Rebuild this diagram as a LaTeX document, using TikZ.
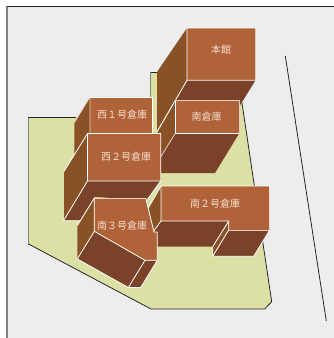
\documentclass[tikz,border=0pt]{standalone}
\usepackage{fontspec}
\setmainfont{Noto Sans CJK JP}
\definecolor{groundgray}{HTML}{EDEDED}
\definecolor{landgreen}{HTML}{DCE0A5}
\definecolor{roofbrown}{HTML}{B06238}
\definecolor{sidebrown}{HTML}{885226}
\definecolor{frontbrown}{HTML}{7A4228}
\definecolor{labeltint}{HTML}{F4DFD0}
\newcommand{\blocklabels}{221/50/ridgehall/本館,122/115/westone/西１号倉庫,126/157/westtwo/西２号倉庫,206.5/116.5/south/南倉庫,215/203.5/southtwo/南２号倉庫,122/226/souththree/南３号倉庫}

\begin{document}
\begin{tikzpicture}[x=1pt,y=-1pt,
    roof/.style={fill=roofbrown},
    side/.style={fill=sidebrown},
    front/.style={fill=frontbrown},
    edge/.style={draw=white,line width=.8pt},
    softedge/.style={draw=white!70!roofbrown,line width=.8pt},
    border/.style={draw=black!85,line width=.8pt},
    grayborder/.style={draw=black!50,line width=.8pt},
    blocklabel/.style={text=labeltint,font=\fontsize{10}{11}\selectfont,inner sep=0pt}]
    \useasboundingbox (0,0) rectangle (334,338);
    % ground
    \fill[white] (0,0) rectangle (334,338);
    \fill[groundgray] (7,6) rectangle (334,338);
    \draw[draw=black!50,line width=1.4pt] (7,6) -- (7,338);
    \draw[border] (7,6) -- (334,6);
    \draw[border] (285.3,56) -- (326.3,321);
    % land
    \fill[landgreen] (28,117.5) -- (100,117.5) -- (100,100) -- (150.5,100) -- (150.5,72) -- (190,72) -- (242,103) -- (271.7,301.7) -- (264.7,309) -- (151,309) -- (28,243.7) -- cycle;
    \draw[border] (28,117.5) -- (76,117.5);
    \draw[grayborder] (150.5,100) -- (150.5,72);
    \draw[border] (150.5,72) -- (160,72);
    \draw[border] (242,103) -- (271.7,301.7) -- (264.7,309) -- (151,309) -- (28,243.7);
    \draw[grayborder] (28,243.7) -- (28,117.5);
    % main hall
    \fill[side] (187,28) -- (157,72) -- (157,132) -- (187,80) -- cycle;
    \fill[front] (187,80) -- (255.7,80) -- (239,107) -- (175,140) -- (157,132) -- cycle;
    \fill[roof] (187,28) rectangle (255.7,80.3);
    \draw[edge] (157,132) -- (187,80.3) -- (255.7,80.3) -- (255.7,28) -- (187,28) -- (187,80.3);
    % south warehouse
    \fill[side] (175,101) -- (157,132) -- (157,160) -- (175,134) -- cycle;
    \fill[front] (175,133.7) -- (239,133.7) -- (215,173) -- (157,173) -- (157,160) -- cycle;
    \draw[edge] (157,132) -- (175,101);
    \draw[softedge] (175,133.7) -- (160,158);
    \fill[roof] (175,100.7) rectangle (239,133.7);
    \draw[edge] (239,133.7) -- (175,133.7) -- (175,100.7);
    \draw[softedge] (175,100.7) -- (239,100.7) -- (239,133.7);
    % west warehouse 1
    \fill[side] (90,97) -- (74.3,122.7) -- (74.3,175) -- (90,150) -- cycle;
    \fill[roof] (90,97) rectangle (152.5,133);
    \draw[softedge] (74.3,122.7) -- (90,97) -- (90,133);
    \draw[edge] (90,97) -- (152.5,97) -- (152.5,133);
    % west warehouse 2
    \fill[side] (87.5,133.5) -- (64,171.5) -- (64,220.7) -- (87.5,181) -- cycle;
    \fill[front] (87.5,181) -- (160.7,181) -- (147,200) -- (95,197) -- (80,220.7) -- (64,220.7) -- cycle;
    \fill[roof] (87.5,133.5) rectangle (160.7,181);
    \draw[edge] (64,171.5) -- (87.5,133.5) -- (160.7,133.5) -- (160.7,181) -- (87.5,181) -- (63.5,220.7) -- (80,220.7);
    \draw[edge] (87.5,133.5) -- (87.5,181);
    \draw[edge] (160.7,181) -- (147,200);
    % south warehouse 2
    \fill[side] (161,186) -- (148.3,208) -- (153,232) -- (161,221) -- cycle;
    \fill[front] (161,221) -- (228.7,221) -- (212.7,246.7) -- (157.5,246.7) -- (153,232) -- cycle;
    \fill[front] (228.7,230) -- (269.7,230) -- (253.7,256.3) -- (212.7,256.3) -- cycle;
    \fill[sidebrown] (228.7,221) -- (228.7,230) -- (212.7,256.3) -- (212.7,246.7) -- cycle;
    \fill[roof] (161,186) -- (269.7,186) -- (269.7,230) -- (228.7,230) -- (228.7,221) -- (161,221) -- cycle;
    \draw[edge] (148.3,208) -- (161,186) -- (269.7,186) -- (269.7,230);
    \draw[edge] (161,186) -- (161,221) -- (228.7,221) -- (228.7,230) -- (212.7,256.3) -- (253.7,256.3) -- (269.7,230);
    \draw[edge] (228.7,221) -- (212.7,246.7) -- (212.7,256.3);
    \draw[softedge] (228.7,230) -- (269.7,230);
    \draw[edge] (161,221) -- (153,232);
    % south warehouse 3
    \fill[side] (94.3,198) -- (77.3,225.7) -- (77.3,259) -- (94.3,231.3) -- cycle;
    \fill[front] (94.3,231.3) -- (145,260.3) -- (128.3,287.5) -- (77.3,259) -- cycle;
    \fill[frontbrown] (145,260.3) -- (157.3,260.3) -- (140.7,287.5) -- (128.3,287.5) -- cycle;
    \fill[roof] (94.3,198) -- (145.7,198) -- (154,232) -- (157.3,232) -- (157.3,260.3) -- (145,260.3) -- (94.3,231.3) -- cycle;
    \draw[edge] (77.3,225.7) -- (94.3,198) -- (94.3,231.3) -- (145,260.3) -- (128.3,287.5) -- (77.3,259) -- (94.3,231.3);
    \draw[softedge] (94.3,198) -- (145.7,198);
    \draw[edge] (145.7,198) -- (154,232) -- (157.3,232) -- (157.3,260.3) -- (145,260.3);
    \draw[edge] (128.3,287.5) -- (140.7,287.5) -- (157.3,260.3);
    % labels
    \foreach \x/\y/\name/\txt in \blocklabels
        {
        \node[blocklabel] (\name) at (\x,\y) {\txt};
        }
\end{tikzpicture}
\end{document}
